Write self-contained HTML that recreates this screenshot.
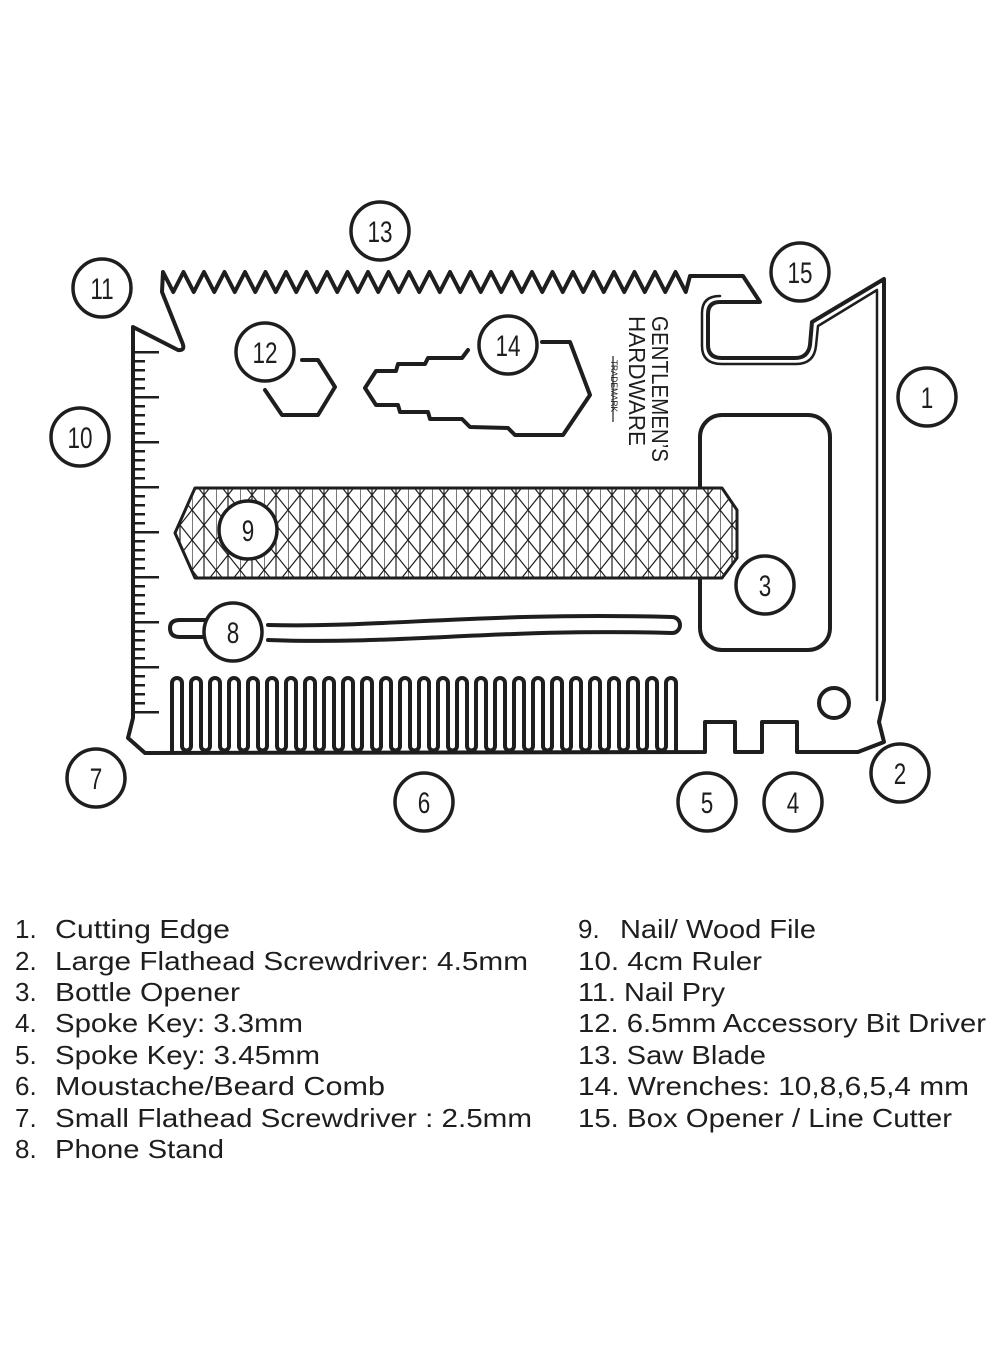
<!DOCTYPE html>
<html><head><meta charset="utf-8"><style>
html,body{margin:0;padding:0;background:#fff;}
svg{display:block;}
.t{font-family:"Liberation Sans",sans-serif;font-size:26px;fill:#1e1e1e;}
.n{font-family:"Liberation Sans",sans-serif;font-size:30px;fill:#1e1e1e;text-anchor:middle;}
</style></head><body>
<svg width="1000" height="1360" viewBox="0 0 1000 1360" xmlns="http://www.w3.org/2000/svg">
<defs>
<pattern id="h" width="24" height="30" patternUnits="userSpaceOnUse">
<rect width="24" height="30" fill="#fff"/>
<path d="M0,0 V30 M12,0 V30 M0,30 L24,0 M0,0 L24,30" stroke="#222" stroke-width="1.2" fill="none"/>
</pattern>
</defs>
<g fill="none" stroke="#1e1e1e" stroke-width="4" stroke-linejoin="round" stroke-linecap="round">
<path d="M133,327 L178,350 Q186,351 182,342 L162,292 L163,272
l10.25,20 l10.25,-20 l10.25,20 l10.25,-20 l10.25,20 l10.25,-20 l10.25,20 l10.25,-20 l10.25,20 l10.25,-20
l10.25,20 l10.25,-20 l10.25,20 l10.25,-20 l10.25,20 l10.25,-20 l10.25,20 l10.25,-20 l10.25,20 l10.25,-20
l10.25,20 l10.25,-20 l10.25,20 l10.25,-20 l10.25,20 l10.25,-20 l10.25,20 l10.25,-20 l10.25,20 l10.25,-20
l10.25,20 l10.25,-20 l10.25,20 l10.25,-20 l10.25,20 l10.25,-20 l10.25,20 l10.25,-20 l10.25,20 l10.25,-20
l10.25,20 l10.25,-20 l10.25,20 l10.25,-20 l10.25,20 l10.25,-20 l10.25,20 l10.25,-20 l10.25,20 l10.25,-20
l10.25,20
L690,276 L743,276 L760,302 L720,302 Q708,302 708,314 L708,345 Q708,358 722,358 L795,358 Q808,358 810,345 L812,322 L884,279 L884,700 L879,722 L884,742 L858,752 L835,752 L797,752 L797,722 L762,722 L762,752 L735,752 L735,722 L705,722 L705,752 L145,753 L128,738 L133,718 Z"/>
<path d="M720,296 Q702,296 702,313 L702,346 Q702,364 722,364 L796,364 Q814,364 816,346 L818,326 L877,290 L877,700" stroke-width="2.5"/>
<line x1="139" y1="351" x2="139" y2="716" stroke-width="12" stroke-linecap="butt" stroke-dasharray="2.5 6.5" stroke="#1e1e1e"/>
<line x1="150" y1="351" x2="150" y2="716" stroke-width="18" stroke-linecap="butt" stroke-dasharray="2.5 42.5" stroke="#1e1e1e"/>
<path d="M302,360 L318,360 L335,387 L318,415 L282,415 L265,390"/>
<path d="M468,350 L462,358 L428,358 L425,364 L398,364 L396,371 L376,371 L365,388 L376,405 L398,405 L400,412 L428,412 L430,419 L462,419 L470,427 L508,428 L515,435 L563,435 L590,395 L570,342 L542,342"/>
<rect x="700" y="415" width="130" height="235" rx="22"/>
<path d="M175,533 L195,488 L712,488 L722,488 L737,510 L737,558 L722,578 L195,578 Z" fill="url(#h)" stroke-width="3"/>
<path d="M205,620 L180,620 Q170,620 170,628 Q170,637 180,637 L205,637"/>
<path d="M268,625 C380,628 480,612 672,617 A8,8 0 0 1 672,633 C500,628 400,645 268,640"/>
<path d="M172,752 V683 a5,5 0 0 1 10,0 v63 a4.5,4.5 0 0 0 9,0
v-63 a5,5 0 0 1 10,0 v63 a4.5,4.5 0 0 0 9,0 v-63 a5,5 0 0 1 10,0 v63 a4.5,4.5 0 0 0 9,0
v-63 a5,5 0 0 1 10,0 v63 a4.5,4.5 0 0 0 9,0 v-63 a5,5 0 0 1 10,0 v63 a4.5,4.5 0 0 0 9,0
v-63 a5,5 0 0 1 10,0 v63 a4.5,4.5 0 0 0 9,0 v-63 a5,5 0 0 1 10,0 v63 a4.5,4.5 0 0 0 9,0
v-63 a5,5 0 0 1 10,0 v63 a4.5,4.5 0 0 0 9,0 v-63 a5,5 0 0 1 10,0 v63 a4.5,4.5 0 0 0 9,0
v-63 a5,5 0 0 1 10,0 v63 a4.5,4.5 0 0 0 9,0 v-63 a5,5 0 0 1 10,0 v63 a4.5,4.5 0 0 0 9,0
v-63 a5,5 0 0 1 10,0 v63 a4.5,4.5 0 0 0 9,0 v-63 a5,5 0 0 1 10,0 v63 a4.5,4.5 0 0 0 9,0
v-63 a5,5 0 0 1 10,0 v63 a4.5,4.5 0 0 0 9,0 v-63 a5,5 0 0 1 10,0 v63 a4.5,4.5 0 0 0 9,0
v-63 a5,5 0 0 1 10,0 v63 a4.5,4.5 0 0 0 9,0 v-63 a5,5 0 0 1 10,0 v63 a4.5,4.5 0 0 0 9,0
v-63 a5,5 0 0 1 10,0 v63 a4.5,4.5 0 0 0 9,0 v-63 a5,5 0 0 1 10,0 v63 a4.5,4.5 0 0 0 9,0
v-63 a5,5 0 0 1 10,0 v63 a4.5,4.5 0 0 0 9,0 v-63 a5,5 0 0 1 10,0 v63 a4.5,4.5 0 0 0 9,0
v-63 a5,5 0 0 1 10,0 v63 a4.5,4.5 0 0 0 9,0 v-63 a5,5 0 0 1 10,0 v63 a4.5,4.5 0 0 0 9,0
v-63 a5,5 0 0 1 10,0 v63 a4.5,4.5 0 0 0 9,0 v-63 a5,5 0 0 1 10,0 v63 a4.5,4.5 0 0 0 9,0
v-63 a5,5 0 0 1 10,0 v63 a4.5,4.5 0 0 0 9,0 v-63 a5,5 0 0 1 10,0 V752"/>
<circle cx="834" cy="703" r="15"/>
</g>
<g font-family="'Liberation Sans',sans-serif" fill="#1e1e1e">
<text transform="translate(652,316) rotate(90)" font-size="23" textLength="146" lengthAdjust="spacingAndGlyphs">GENTLEMEN’S</text>
<text transform="translate(629,316) rotate(90)" font-size="23" textLength="130" lengthAdjust="spacingAndGlyphs">HARDWARE</text>
<text transform="translate(611,360) rotate(90)" font-size="9" textLength="52" lengthAdjust="spacingAndGlyphs">TRADEMARK</text>
<line x1="613" y1="356" x2="613" y2="422" stroke="#1e1e1e" stroke-width="1.2"/>
</g>
<g fill="#fff" stroke="#1e1e1e" stroke-width="3.5">
<circle cx="380" cy="231" r="29"/><circle cx="102" cy="288" r="29"/><circle cx="800" cy="272" r="29"/>
<circle cx="265" cy="352" r="29"/><circle cx="508" cy="345" r="29"/><circle cx="927" cy="397" r="29"/>
<circle cx="80" cy="437" r="29"/><circle cx="248" cy="530" r="29"/><circle cx="765" cy="585" r="29"/>
<circle cx="233" cy="632" r="29"/><circle cx="96" cy="778" r="29"/><circle cx="424" cy="802" r="29"/>
<circle cx="707" cy="802" r="29"/><circle cx="793" cy="802" r="29"/><circle cx="900" cy="773" r="29"/>
</g>
<g class="n">
<text transform="translate(380,242) scale(0.75,1)" class="n">13</text>
<text transform="translate(102,299) scale(0.75,1)" class="n">11</text>
<text transform="translate(800,283) scale(0.75,1)" class="n">15</text>
<text transform="translate(265,363) scale(0.75,1)" class="n">12</text>
<text transform="translate(508,356) scale(0.75,1)" class="n">14</text>
<text transform="translate(927,408) scale(0.75,1)" class="n">1</text>
<text transform="translate(80,448) scale(0.75,1)" class="n">10</text>
<text transform="translate(248,541) scale(0.75,1)" class="n">9</text>
<text transform="translate(765,596) scale(0.75,1)" class="n">3</text>
<text transform="translate(233,643) scale(0.75,1)" class="n">8</text>
<text transform="translate(96,789) scale(0.75,1)" class="n">7</text>
<text transform="translate(424,813) scale(0.75,1)" class="n">6</text>
<text transform="translate(707,813) scale(0.75,1)" class="n">5</text>
<text transform="translate(793,813) scale(0.75,1)" class="n">4</text>
<text transform="translate(900,784) scale(0.75,1)" class="n">2</text>
</g>
<g class="t">
<text x="15" y="938">1.</text><text x="55" y="938" textLength="175" lengthAdjust="spacingAndGlyphs">Cutting Edge</text>
<text x="15" y="970">2.</text><text x="55" y="970" textLength="473" lengthAdjust="spacingAndGlyphs">Large Flathead Screwdriver: 4.5mm</text>
<text x="15" y="1001">3.</text><text x="55" y="1001" textLength="185" lengthAdjust="spacingAndGlyphs">Bottle Opener</text>
<text x="15" y="1032">4.</text><text x="55" y="1032" textLength="248" lengthAdjust="spacingAndGlyphs">Spoke Key: 3.3mm</text>
<text x="15" y="1064">5.</text><text x="55" y="1064" textLength="265" lengthAdjust="spacingAndGlyphs">Spoke Key: 3.45mm</text>
<text x="15" y="1095">6.</text><text x="55" y="1095" textLength="330" lengthAdjust="spacingAndGlyphs">Moustache/Beard Comb</text>
<text x="15" y="1127">7.</text><text x="55" y="1127" textLength="477" lengthAdjust="spacingAndGlyphs">Small Flathead Screwdriver : 2.5mm</text>
<text x="15" y="1158">8.</text><text x="55" y="1158" textLength="169" lengthAdjust="spacingAndGlyphs">Phone Stand</text>
<text x="578" y="938">9.</text><text x="620" y="938" textLength="196" lengthAdjust="spacingAndGlyphs">Nail/ Wood File</text>
<text x="578" y="970" textLength="184" lengthAdjust="spacingAndGlyphs">10. 4cm Ruler</text>
<text x="578" y="1001" textLength="147" lengthAdjust="spacingAndGlyphs">11. Nail Pry</text>
<text x="578" y="1032" textLength="408" lengthAdjust="spacingAndGlyphs">12. 6.5mm Accessory Bit Driver</text>
<text x="578" y="1064" textLength="188" lengthAdjust="spacingAndGlyphs">13. Saw Blade</text>
<text x="578" y="1095" textLength="391" lengthAdjust="spacingAndGlyphs">14. Wrenches: 10,8,6,5,4 mm</text>
<text x="578" y="1127" textLength="374" lengthAdjust="spacingAndGlyphs">15. Box Opener / Line Cutter</text>
</g>
</svg>
</body></html>
